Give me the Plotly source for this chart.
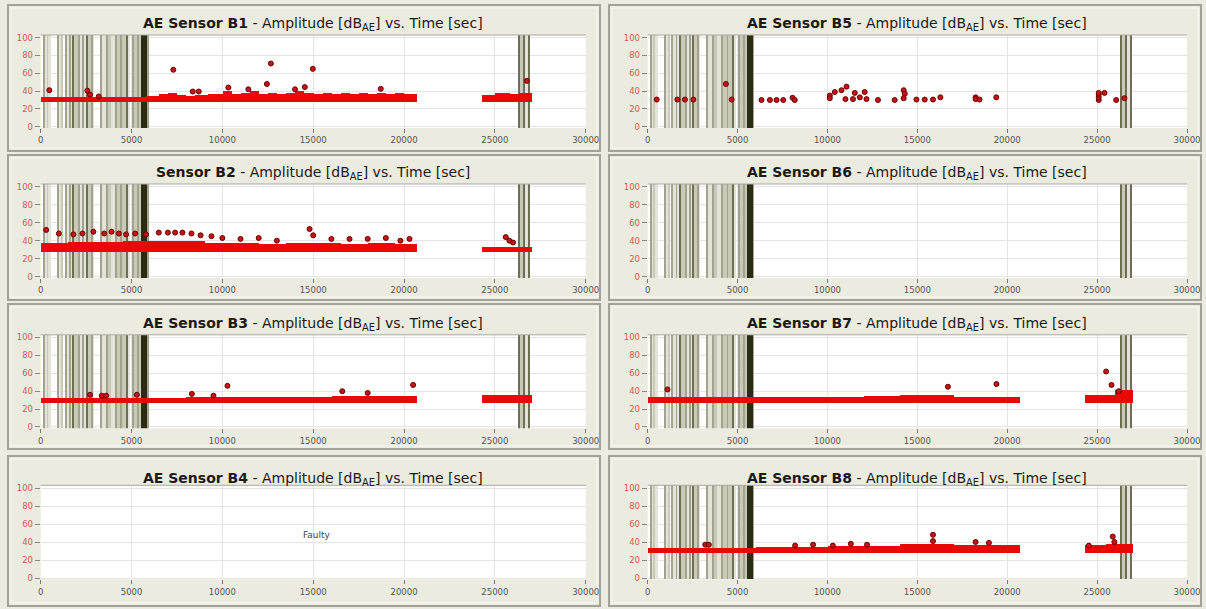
import plotly.graph_objects as go

W, H = 1206, 609

# ---------------- data ----------------
sensors = ["B1", "B2", "B3", "B4", "B5", "B6", "B7", "B8"]
title_bold = ["AE Sensor B1", "Sensor B2", "AE Sensor B3", "AE Sensor B4",
              "AE Sensor B5", "AE Sensor B6", "AE Sensor B7", "AE Sensor B8"]
title_rest = " - Amplitude [dB<sub>AE</sub>] vs. Time [sec]"
y_ticks = [0, 20, 40, 60, 80, 100]
x_ticks = [0, 5000, 10000, 15000, 20000, 25000, 30000]

# event-marker stripes (start time, end time, shade index 0 light .. 4 darkest)
event_start = [130, 180, 330, 370, 900, 960, 1120, 1330, 1380, 1560, 1610, 1760, 1830,
               2060, 2120, 2300, 2360, 2500, 2570, 2760, 2820, 3280, 3330, 3600, 3650,
               3850, 4080, 4130, 4400, 4450, 4680, 4740, 5050, 5100, 5320, 5370, 5530, 5830,
               26260, 26330, 26560, 26640, 26840]
event_end = [180, 330, 370, 560, 960, 1120, 1170, 1380, 1560, 1610, 1760, 1830, 2060,
             2120, 2300, 2360, 2500, 2570, 2760, 2820, 2900, 3330, 3600, 3650, 3850,
             4080, 4130, 4400, 4450, 4680, 4740, 4900, 5100, 5320, 5370, 5530, 5830, 5920,
             26330, 26560, 26640, 26840, 26900]
event_shade = [2, 0, 1, 0, 2, 0, 1, 2, 0, 2, 0, 3, 1,
               2, 0, 2, 0, 3, 1, 2, 0, 2, 0, 2, 1,
               0, 2, 1, 2, 1, 3, 0, 2, 1, 2, 1, 4, 2,
               3, 1, 3, 0, 3]
shade_colors = ["#e3e3d9", "#c9c9b8", "#a3a38d", "#6e6e55", "#2c2c14"]
sensors_with_events = ["B1", "B2", "B3", "B5", "B6", "B7", "B8"]

# dense hit bands: segment start, segment end, top amplitude (bottom at band_floor)
band_floor = 27.5
band = {
    "B1": dict(start=[0, 5800, 6500, 7000, 7500, 8000, 8500, 9200, 10000, 10500, 11000, 11500,
                      12000, 12500, 13000, 13500, 14000, 14500, 15000, 15500, 16000, 16500,
                      17000, 17500, 18000, 18500, 19000, 19500, 20000,
                      24300, 25000, 25800, 26300],
               end=[5800, 6500, 7000, 7500, 8000, 8500, 9200, 10000, 10500, 11000, 11500, 12000,
                    12500, 13000, 13500, 14000, 14500, 15000, 15500, 16000, 16500, 17000,
                    17500, 18000, 18500, 19000, 19500, 20000, 20700,
                    25000, 25800, 26300, 27000],
               top=[33, 35, 37, 38, 36, 34, 36, 37, 40, 37, 38, 40,
                    37, 38, 37, 38, 40, 38, 37, 38, 37, 38,
                    37, 38, 37, 38, 37, 38, 37,
                    36, 38, 37, 38]),
    "B2": dict(start=[0, 1500, 3000, 4500, 6000, 7500, 9000, 10500, 12000, 13500, 15000,
                      16500, 18000, 19500, 24300],
               end=[1500, 3000, 4500, 6000, 7500, 9000, 10500, 12000, 13500, 15000, 16500,
                    18000, 19500, 20700, 27000],
               top=[38, 39, 39, 40, 40, 40, 38, 37, 36, 37, 37, 36, 37, 36, 33]),
    "B3": dict(start=[0, 8000, 12000, 16000, 24300],
               end=[8000, 12000, 16000, 20700, 27000],
               top=[32.5, 34, 34, 35, 36]),
    "B4": dict(start=[], end=[], top=[]),
    "B5": dict(start=[], end=[], top=[]),
    "B6": dict(start=[], end=[], top=[]),
    "B7": dict(start=[0, 6000, 12000, 14000, 17000, 24300, 26000],
               end=[6000, 12000, 14000, 17000, 20700, 26000, 27000],
               top=[34, 34, 35, 36, 34, 36, 41]),
    "B8": dict(start=[0, 6000, 10000, 14000, 17000, 24300, 25500],
               end=[6000, 10000, 14000, 17000, 20700, 25500, 27000],
               top=[33, 34, 35, 37, 36, 36, 37]),
}

# isolated hits (time, amplitude)
hits = {
    "B1": dict(t=[475, 2570, 2715, 3195, 7300, 8370, 8700, 10330, 11430, 12450, 12670, 14000,
                  14540, 14980, 18720, 26760],
               a=[41, 40.5, 36, 34, 64, 39.5, 39.5, 44, 42, 48, 71, 42,
                  44.5, 65, 42.5, 51.5]),
    "B2": dict(t=[300, 1000, 1800, 2300, 2900, 3500, 3900, 4300, 4700, 5200, 5800, 6500, 7000,
                  7400, 7800, 8300, 8800, 9400, 10000, 11000, 12000, 13000, 14800, 15000, 16000,
                  17000, 18000, 19000, 19800, 20300, 25600, 25800, 26000],
               a=[52, 48, 47, 48, 50, 48, 50, 48, 47, 48, 47, 49, 49,
                  49, 49, 48, 46, 45, 43, 42, 43, 40, 53, 46, 42,
                  42, 42, 43, 40, 42, 44, 40, 38]),
    "B3": dict(t=[2715, 3360, 3600, 5290, 8320, 9510, 10280, 16600, 18000, 20500],
               a=[36, 35, 35, 36, 37, 35, 46, 40, 38, 47]),
    "B4": dict(t=[], a=[]),
    "B5": dict(t=[500, 1650, 2070, 2540, 4350, 4670, 6330, 6800, 7170, 7540, 8060, 8180,
                  10130, 10130, 10410, 10780, 11060, 11000, 11420, 11520, 11800, 12070, 12170,
                  12810, 13740, 14240, 14300, 14240, 14950, 15410, 15870, 16280, 18240, 18240,
                  18460, 19390, 25090, 25090, 25090, 25090, 25410, 26060, 26520],
               a=[30.5, 30.5, 30.5, 30.5, 48, 30.5, 30, 30, 30, 30, 32.5, 30,
                  35, 32, 39, 41, 45, 31, 31, 38, 33, 39, 31,
                  30, 30, 41, 37, 32, 30.5, 30.5, 30.5, 33, 33, 31,
                  30.5, 33, 30, 33, 36, 38, 38, 30, 32]),
    "B6": dict(t=[], a=[]),
    "B7": dict(t=[1100, 16700, 19400, 25500, 25800, 26200],
               a=[42, 45, 48, 62, 47, 40]),
    "B8": dict(t=[3200, 3400, 8200, 9200, 10300, 11300, 12200, 15870, 15870, 18240, 18980,
                  24540, 25870, 25960],
               a=[37, 37, 36, 37, 36, 38, 37, 48, 41, 40, 39, 36, 46, 40]),
}
faulty_sensor = "B4"

# ---------------- layout geometry (pixels) ----------------
col_px = [(40.7, 585.7), (647.7, 1187.0)]
row_px = [(37.7, 126.7), (186.7, 276.7), (337.5, 427.0), (488.0, 578.0)]
title_py = [24, 173, 324, 479]
frame_x = [(8, 600), (609, 1201)]
frame_y = [(5, 151), (155, 300), (304, 449), (456, 606)]
Y_LO, Y_HI = -1.5, 103

def fx(px):
    return px / W

def fy(py):
    return 1 - py / H

fig = go.Figure()
layout_axes = {}
shapes = []
annotations = []

RED = "#e80808"
BG = "#ecebdf"

for i, s in enumerate(sensors):
    col = 0 if i < 4 else 1
    row = i % 4
    n = i + 1
    xa = "x" if n == 1 else f"x{n}"
    ya = "y" if n == 1 else f"y{n}"
    x0p, x1p = col_px[col]
    t, b = row_px[row]
    k = (b - t) / 100.0
    top_py = t - (Y_HI - 100) * k
    bot_py = b + (0 - Y_LO) * k
    layout_axes[("xaxis" if n == 1 else f"xaxis{n}")] = dict(
        domain=[fx(x0p), fx(x1p)], range=[0, 30000], anchor=ya, automargin=False,
        tickvals=x_ticks, ticktext=[str(v) for v in x_ticks],
        ticks="outside", ticklen=4, tickcolor="#777777", tickwidth=1,
        showgrid=True, gridcolor="#e4e4e4", gridwidth=1, zeroline=False,
        showline=False, tickfont=dict(family="DejaVu Sans", size=8.5, color="#555555"),
        fixedrange=True)
    layout_axes[("yaxis" if n == 1 else f"yaxis{n}")] = dict(
        domain=[fy(bot_py), fy(top_py)], range=[Y_LO, Y_HI], anchor=xa, automargin=False,
        tickvals=y_ticks, ticktext=[str(v) for v in y_ticks],
        ticks="outside", ticklen=5, tickcolor="#888888", tickwidth=1,
        showgrid=True, gridcolor="#e4e4e4", gridwidth=1, zeroline=False,
        showline=False, tickfont=dict(family="DejaVu Sans", size=8.5, color="#d05a5a"),
        fixedrange=True)

    # event stripes
    if s in sensors_with_events:
        for sh in range(len(shade_colors)):
            xs = [(a + e) / 2 for a, e, c in zip(event_start, event_end, event_shade) if c == sh]
            ws = [(e - a) for a, e, c in zip(event_start, event_end, event_shade) if c == sh]
            if not xs:
                continue
            fig.add_trace(go.Bar(x=xs, y=[Y_HI - Y_LO] * len(xs), base=Y_LO, width=ws,
                                 marker=dict(color=shade_colors[sh], line=dict(width=0)),
                                 xaxis=xa, yaxis=ya, showlegend=False, hoverinfo="skip"))

    # dense band
    bd = band[s]
    if bd["start"]:
        fig.add_trace(go.Bar(x=[(a + e) / 2 for a, e in zip(bd["start"], bd["end"])],
                             y=[tp - band_floor for tp in bd["top"]], base=band_floor,
                             width=[e - a for a, e in zip(bd["start"], bd["end"])],
                             marker=dict(color=RED, line=dict(width=0)),
                             xaxis=xa, yaxis=ya, showlegend=False))
    # hits
    hd = hits[s]
    if hd["t"]:
        fig.add_trace(go.Scatter(x=hd["t"], y=hd["a"], mode="markers",
                                 marker=dict(symbol="circle", size=5, color="#c81414",
                                             line=dict(color="#6a0000", width=1)),
                                 xaxis=xa, yaxis=ya, showlegend=False))

    # plot-area top border
    shapes.append(dict(type="line", xref="paper", yref="paper",
                       x0=fx(x0p), x1=fx(x1p), y0=fy(top_py), y1=fy(top_py),
                       line=dict(color="#a8a8a0", width=1)))

    # frame
    fx0, fx1 = frame_x[col]
    fy0, fy1 = frame_y[row]
    shapes.append(dict(type="rect", xref="paper", yref="paper",
                       x0=fx(fx0), x1=fx(fx1), y0=fy(fy1), y1=fy(fy0),
                       line=dict(color="#a2a298", width=2), fillcolor="rgba(0,0,0,0)",
                       layer="below"))
    shapes.append(dict(type="rect", xref="paper", yref="paper",
                       x0=fx(fx0 + 3), x1=fx(fx1 - 3), y0=fy(fy1 - 3), y1=fy(fy0 + 3),
                       line=dict(color="#fafaf5", width=1), fillcolor="rgba(0,0,0,0)",
                       layer="below"))

    # title
    annotations.append(dict(xref="paper", yref="paper", x=fx((x0p + x1p) / 2), y=fy(title_py[row]),
                            text=f"<b>{title_bold[i]}</b>{title_rest}", showarrow=False,
                            xanchor="center", yanchor="middle",
                            font=dict(family="DejaVu Sans", size=14, color="#1a1a1a")))
    if s == faulty_sensor:
        annotations.append(dict(xref=xa, yref=ya, x=15200, y=48, text="Faulty", showarrow=False,
                                font=dict(family="DejaVu Sans", size=9, color="#444444")))

fig.update_layout(
    width=W, height=H, margin=dict(l=0, r=0, t=0, b=0, pad=0),
    paper_bgcolor=BG, plot_bgcolor="#ffffff", barmode="overlay", bargap=0,
    shapes=shapes, annotations=annotations, showlegend=False,
    **layout_axes)

fig.write_html("out.html", config={"displayModeBar": False},
               post_script="document.body.style.margin='0';document.body.style.background='%s';" % BG)
